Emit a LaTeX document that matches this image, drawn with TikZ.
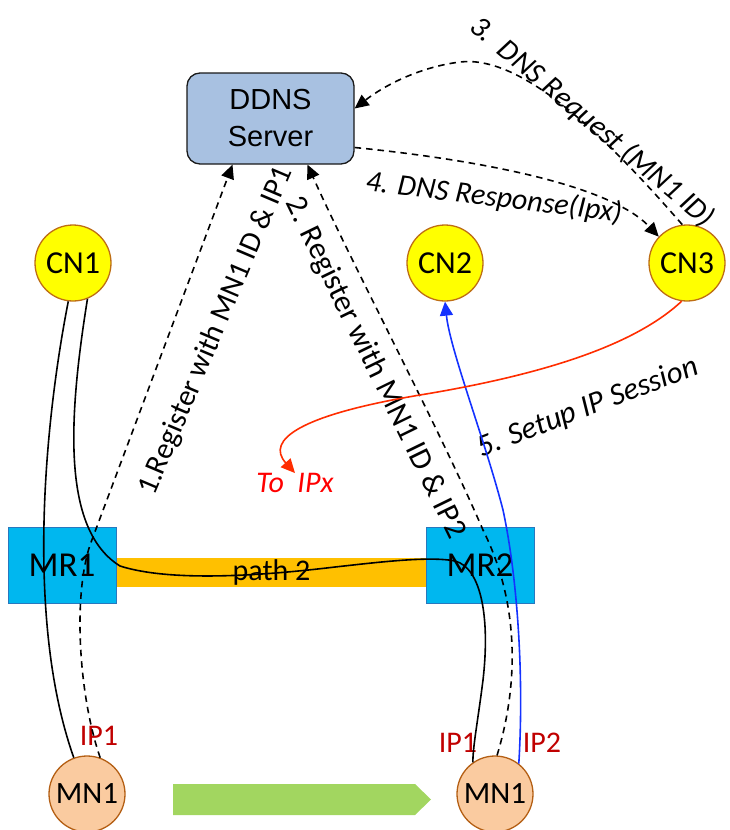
\documentclass[tikz,border=0pt]{standalone}
\usepackage{fontspec}
\setmainfont{Carlito}
\newfontfamily\arialf{Liberation Sans}
\usetikzlibrary{arrows.meta}
\definecolor{ddnsfill}{RGB}{168,193,225}
\definecolor{cnfill}{RGB}{255,255,0}
\definecolor{cnborder}{RGB}{190,110,20}
\definecolor{mnfill}{RGB}{250,203,160}
\definecolor{mnborder}{RGB}{180,95,20}
\definecolor{mrfill}{RGB}{0,183,239}
\definecolor{mrborder}{RGB}{40,120,190}
\definecolor{barfill}{RGB}{255,192,0}
\definecolor{greenfill}{RGB}{162,214,96}
\definecolor{iplabel}{RGB}{192,0,0}
\definecolor{redtext}{RGB}{255,0,0}
\definecolor{redline}{RGB}{255,45,0}
\definecolor{blueline}{RGB}{20,50,255}
\tikzset{
  ddnsbox/.style={draw=black!90, line width=1.3pt, fill=ddnsfill, rounded corners=13pt,
     minimum width=167pt, minimum height=91pt, align=center,
     font={\arialf\fontsize{29}{37}\selectfont}},
  cnnode/.style={circle, draw=cnborder, line width=1.3pt, fill=cnfill, minimum size=76pt, inner sep=0pt,
     font={\fontsize{32}{36}\selectfont}},
  mnnode/.style={circle, draw=mnborder, line width=1.3pt, fill=mnfill, minimum size=76pt, inner sep=0pt,
     font={\fontsize{31}{36}\selectfont}},
  mrnode/.style={rectangle, draw=mrborder, line width=0.8pt, fill=mrfill, minimum width=108pt, minimum height=76pt,
     inner sep=0pt, font={\fontsize{35}{40}\selectfont}},
  pathbar/.style={rectangle, fill=barfill, minimum width=311pt, minimum height=29pt, inner sep=0pt,
     font={\fontsize{30}{36}\selectfont}},
  iplab/.style={text=iplabel, inner sep=0pt, font={\fontsize{30}{36}\selectfont}},
  steplab/.style={inner sep=0pt, font={\fontsize{30}{36}\selectfont}},
  steplabit/.style={inner sep=0pt, font={\fontsize{30}{36}\selectfont\itshape}},
  solidline/.style={draw=black, line width=1.6pt},
  dashline/.style={draw=black, line width=1.6pt, dash pattern=on 6.5pt off 5pt},
  tip/.style={-{Triangle[length=14pt,width=13pt]}},
}
\begin{document}
\begin{tikzpicture}[x=1pt,y=-1pt]
\useasboundingbox (0,0) rectangle (730,830);

% nodes
\node[ddnsbox] (ddns) at (270.5,118.5) {DDNS\\Server};
\node[cnnode] (cn1) at (73,263) {CN1};
\node[cnnode] (cn2) at (445,263) {CN2};
\node[cnnode] (cn3) at (687,263) {CN3};
\node[pathbar] (bar) at (271.5,572.5) {path 2};
\node[mrnode] (mr1) at (62,565) {MR1};
\node[mrnode] (mr2) at (480,565) {MR2};
\node[mnnode] (mn1l) at (87,794) {MN1};
\node[mnnode] (mn1r) at (495,794) {MN1};

% moving arrow
\fill[greenfill] (173,784) -- (415,784) -- (431,799.5) -- (415,815) -- (173,815) -- cycle;

% labels
\node[iplab] (ipl) at (99,736) {IP1};
\node[iplab] (ipr1) at (458,743) {IP1};
\node[iplab] (ipr2) at (542,743) {IP2};
\node[steplabit, text=redtext] (toipx) at (295,483) {To\ \ IPx};
\node[steplab, rotate=67] (lab1) at (216,331) {1.Register with MN1 ID \& IP1};
\node[steplab, rotate=-64, font={\fontsize{31}{36}\selectfont}] (lab2) at (375,368) {2. Register with MN1 ID \& IP2};
\node[steplabit, rotate=-40] (lab3) at (592,122) {3.\ \ DNS Request (MN1 ID)};
\node[steplabit, rotate=-7] (lab4) at (494,198) {4. DNS Response(Ipx)};
\node[steplabit, rotate=21, font={\fontsize{31}{36}\selectfont\itshape}] (lab5) at (588,408) {5. Setup IP Session};

% connectors
\draw[solidline] (cn1.-97) .. controls (45,420) and (25,620) .. (mn1l.110);
\draw[solidline] (cn1.-68) .. controls (68,420) and (62,530) .. (120,566)
   .. controls (170,582) and (260,576) .. (335,567)
   .. controls (380,562) and (430,556) .. (455,561)
   .. controls (482,568) and (490,620) .. (483,680)
   .. controls (478,720) and (473,745) .. (mn1r.125);
\draw[dashline, tip] (mn1l.70) .. controls (80,700) and (72,600) .. (90,545) -- ([xshift=-38pt]ddns.south);
\draw[dashline, tip] (mn1r.87) .. controls (520,680) and (518,600) .. (483,530)
   .. controls (440,430) and (350,260) .. ([xshift=37pt]ddns.south);
\draw[draw=blueline, line width=1.6pt, tip] (mn1r.52) .. controls (524,680) and (518,580) .. (503,510)
   .. controls (485,440) and (450,350) .. (cn2.south);
\draw[draw=redline, line width=1.6pt, tip] (cn3.-98) .. controls (640,340) and (560,372) .. (420,395)
   .. controls (300,415) and (265,440) .. (toipx.north);
\draw[dashline, tip] (cn3.97) .. controls (600,130) and (520,55) .. (460,62)
   .. controls (420,67) and (385,85) .. ([yshift=10pt]ddns.east);
\draw[dashline, tip] ([yshift=-29pt]ddns.east) .. controls (480,160) and (610,185) .. (cn3.137);
\end{tikzpicture}
\end{document}
